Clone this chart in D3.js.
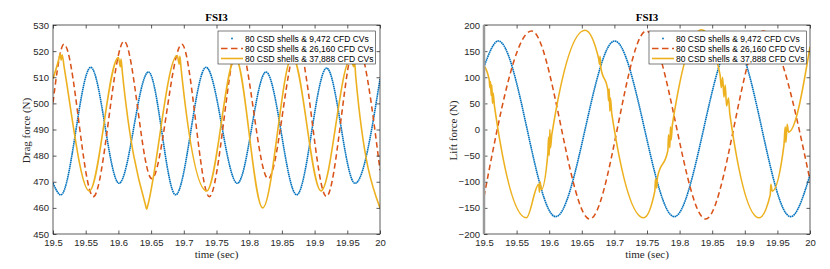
<!DOCTYPE html>
<html>
<head>
<meta charset="utf-8">
<script src="https://cdn.jsdelivr.net/npm/d3@7"></script>
<style>
  html, body { margin: 0; padding: 0; background: #fff; }
  svg { display: block; }
</style>
</head>
<body>
<svg id="chart" width="830" height="269"></svg>
<script>
// ---------------- DATA ----------------
const xTicks = [19.5, 19.55, 19.6, 19.65, 19.7, 19.75, 19.8, 19.85, 19.9, 19.95, 20];
const xTickLabels = ["19.5", "19.55", "19.6", "19.65", "19.7", "19.75", "19.8", "19.85", "19.9", "19.95", "20"];
const dragTicks = [450, 460, 470, 480, 490, 500, 510, 520, 530];
const liftTicks = [-200, -150, -100, -50, 0, 50, 100, 150, 200];
const seriesNames = ["80 CSD shells & 9,472 CFD CVs", "80 CSD shells & 26,160 CFD CVs", "80 CSD shells & 37,888 CFD CVs"];

// Drag force (N) vs time (sec)
const dragBlue = [
  [19.5, 469.5], [19.512, 465], [19.5577, 513.8], [19.601, 469.4], [19.646, 512],
  [19.6875, 465], [19.734, 513.8], [19.7819, 469.4], [19.8257, 512], [19.8727, 465],
  [19.9184, 513.5], [19.9618, 469.4], [20.0, 509.3]
];
const dragOrange = [
  [19.5, 500.3], [19.5168, 522.6], [19.5617, 464.3], [19.6087, 523.8], [19.651, 471.2],
  [19.697, 522.6], [19.739, 464.3], [19.784, 523.8], [19.829, 471.2], [19.874, 522.6],
  [19.918, 464.3], [19.963, 523.8], [20.0, 474.4]
];
const dragYellow = [
  [19.5, 509.5], [19.509, 517], [19.511, 519], [19.5125, 516.5], [19.514, 518.6], [19.517, 514],
  [19.5556, 466.5], [19.600, 517.5], [19.603, 514], [19.604, 517], [19.606, 512],
  [19.641, 461.5], [19.6434, 459.5], [19.645, 461], [19.690, 518.3], [19.693, 515], [19.694, 518], [19.696, 513],
  [19.735, 466.5], [19.779, 517.5], [19.8206, 460], [19.866, 518],
  [19.9098, 466.5], [19.955, 517], [19.960, 514], [19.961, 516], [19.963, 510], [20.0, 460]
];

// Lift force (N) vs time (sec)
const liftBlue = [
  [19.5, 120], [19.522, 169.4], [19.610, -166.8], [19.7005, 169.4], [19.7918, -166.8],
  [19.882, 169.4], [19.9704, -166.8], [20.0, -87]
];
const liftOrange = [
  [19.5, -128.5], [19.573, 188.5], [19.6622, -171.3], [19.749, 188.5], [19.840, -171.3],
  [19.928, 188.5], [20.0, -97]
];
const liftYellow = [
  [19.5, 122], [19.508, 95], [19.509, 80], [19.510, 92], [19.511, 65], [19.512, 85], [19.513, 50], [19.514, 70], [19.516, 45],
  [19.565, -169],
  [19.584, -105], [19.585, -120], [19.586, -100], [19.588, -115],
  [19.598, -45], [19.599, -15], [19.600, -50], [19.601, 0], [19.602, -35], [19.604, -10],
  [19.655, 190],
  [19.676, 135], [19.677, 125], [19.678, 140], [19.679, 120],
  [19.690, 75], [19.691, 55], [19.692, 78], [19.693, 35], [19.694, 60], [19.696, 30],
  [19.745, -169],
  [19.762, -118], [19.763, -95], [19.765, -112], [19.766, -92],
  [19.782, -40], [19.783, -10], [19.785, -35], [19.786, 5], [19.787, -20], [19.789, 10],
  [19.834, 191],
  [19.862, 105], [19.864, 80], [19.866, 100], [19.868, 62], [19.870, 85], [19.872, 45], [19.875, 60], [19.877, 30],
  [19.922, -169],
  [19.939, -125], [19.940, -105], [19.942, -118],
  [19.960, -30], [19.962, 5], [19.963, -25], [19.965, 10], [19.967, -5],
  [20.0, 158]
];

// ---------------- DRAWING ----------------
const svg = d3.select("#chart");
const AX = "#262626";
const COLORS = ["#0072BD", "#D95319", "#EDB120"];
const SANS = "'Liberation Sans', Arial, Helvetica, sans-serif";
const SERIF = "'Liberation Serif', 'Times New Roman', serif";

const panels = [
  { id: "drag", x0: 53, x1: 380, y0: 25, y1: 234, ydom: [450, 530], yticks: dragTicks,
    ylabel: "Drag force (N)", ylabelX: 26, series: [dragBlue, dragOrange, dragYellow], legendX: 218, graySpine: false },
  { id: "lift", x0: 484, x1: 810, y0: 25, y1: 234, ydom: [-200, 200], yticks: liftTicks,
    ylabel: "Lift force (N)", ylabelX: 453, series: [liftBlue, liftOrange, liftYellow], legendX: 649, graySpine: true }
];

const styles = [
  { width: 1.6, dash: "1.6,0.5", cap: "butt" },
  { width: 1.55, dash: "5.5,3.5", cap: "butt" },
  { width: 1.6, dash: null, cap: "butt" }
];

panels.forEach(p => {
  const x = d3.scaleLinear().domain([19.5, 20]).range([p.x0, p.x1]);
  const y = d3.scaleLinear().domain(p.ydom).range([p.y1, p.y0]);
  const g = svg.append("g");

  // clip
  svg.append("clipPath").attr("id", "clip-" + p.id)
    .append("rect").attr("x", p.x0).attr("y", p.y0)
    .attr("width", p.x1 - p.x0).attr("height", p.y1 - p.y0);

  // lines
  const line = d3.line().x(d => x(d[0])).y(d => y(d[1])).curve(d3.curveMonotoneX);
  const lg = g.append("g").attr("clip-path", `url(#clip-${p.id})`);
  p.series.forEach((s, i) => {
    lg.append("path").datum(s)
      .attr("d", line)
      .attr("fill", "none")
      .attr("stroke", COLORS[i])
      .attr("stroke-width", styles[i].width)
      .attr("stroke-dasharray", styles[i].dash)
      .attr("stroke-linecap", styles[i].cap)
      .attr("stroke-linejoin", "round");
  });

  // axes (inward ticks)
  const tk = 3.5;
  const fmt = (d) => xTickLabels[xTicks.indexOf(d)];
  const bottom = g.append("g").attr("transform", `translate(0,${p.y1})`)
    .call(d3.axisBottom(x).tickValues(xTicks).tickFormat(fmt).tickSizeInner(-tk).tickSizeOuter(0).tickPadding(5.6));
  const top = g.append("g").attr("transform", `translate(0,${p.y0})`)
    .call(d3.axisTop(x).tickValues(xTicks).tickFormat("").tickSizeInner(-tk).tickSizeOuter(0));
  const left = g.append("g").attr("transform", `translate(${p.x0},0)`)
    .call(d3.axisLeft(y).tickValues(p.yticks).tickFormat(d3.format("d")).tickSizeInner(-tk).tickSizeOuter(0).tickPadding(4));
  const right = g.append("g").attr("transform", `translate(${p.x1},0)`)
    .call(d3.axisRight(y).tickValues(p.yticks).tickFormat("").tickSizeInner(-tk).tickSizeOuter(0));
  [bottom, top, left, right].forEach(a => {
    a.select(".domain").remove();
    a.selectAll(".tick line").attr("stroke", AX).attr("stroke-width", 0.75);
    a.selectAll(".tick text").attr("fill", AX).style("font-family", SANS).style("font-size", "9.5px");
  });

  // box
  g.append("rect").attr("x", p.x0).attr("y", p.y0)
    .attr("width", p.x1 - p.x0).attr("height", p.y1 - p.y0)
    .attr("fill", "none").attr("stroke", AX).attr("stroke-width", 0.75);
  if (p.graySpine) {
    g.append("line").attr("x1", p.x0).attr("x2", p.x0).attr("y1", p.y0).attr("y2", p.y1)
      .attr("stroke", "#9a9a9a").attr("stroke-width", 2.5);
  }

  // title and labels
  g.append("text").attr("x", (p.x0 + p.x1) / 2).attr("y", 21)
    .attr("text-anchor", "middle").attr("fill", "#000")
    .style("font-family", SERIF).style("font-size", "11px").style("font-weight", "bold")
    .text("FSI3");
  g.append("text").attr("x", (p.x0 + p.x1) / 2).attr("y", 257.5)
    .attr("text-anchor", "middle").attr("fill", AX)
    .style("font-family", SERIF).style("font-size", "11px")
    .text("time (sec)");
  g.append("text").attr("transform", `translate(${p.ylabelX},${(p.y0 + p.y1) / 2 + 1}) rotate(-90)`)
    .attr("text-anchor", "middle").attr("dy", "0.35em").attr("fill", AX)
    .style("font-family", SERIF).style("font-size", "11px")
    .text(p.ylabel);

  // legend
  const lx = p.legendX, ly = 31, lw = 157.5, lh = 33;
  const leg = g.append("g");
  leg.append("rect").attr("x", lx).attr("y", ly).attr("width", lw).attr("height", lh)
    .attr("fill", "#fff").attr("stroke", AX).attr("stroke-width", 0.6);
  seriesNames.forEach((name, i) => {
    const cy = ly + 7.5 + i * 10;
    if (i === 0) {
      leg.append("circle").attr("cx", lx + 14).attr("cy", cy).attr("r", 0.9).attr("fill", COLORS[0]);
    } else {
      leg.append("line").attr("x1", lx + 3).attr("x2", lx + 25).attr("y1", cy).attr("y2", cy)
        .attr("stroke", COLORS[i]).attr("stroke-width", styles[i].width)
        .attr("stroke-dasharray", i === 1 ? "6.5,3.5" : null);
    }
    leg.append("text").attr("x", lx + 27).attr("y", cy + 3.1)
      .attr("fill", "#000").style("font-family", SANS).style("font-size", "8.5px")
      .text(name);
  });
});
</script>
</body>
</html>
